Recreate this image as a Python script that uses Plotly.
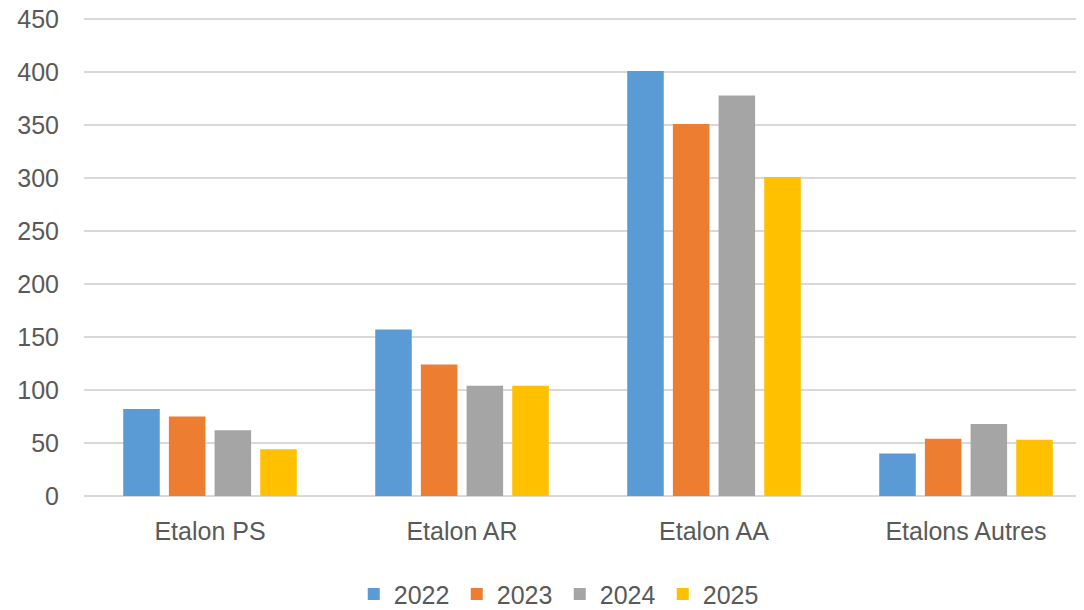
import plotly.graph_objects as go

categories = ["Etalon PS", "Etalon AR", "Etalon AA", "Etalons Autres"]
years = ["2022", "2023", "2024", "2025"]
v2022 = [82, 157, 401, 40]
v2023 = [75, 124, 351, 54]
v2024 = [62, 104, 378, 68]
v2025 = [44, 104, 301, 53]
colors = ["#5B9BD5", "#ED7D31", "#A5A5A5", "#FFC000"]
y_ticks = [0, 50, 100, 150, 200, 250, 300, 350, 400, 450]

series = [v2022, v2023, v2024, v2025]
FONT = "Liberation Sans"
fig = go.Figure()
for name, vals, col in zip(years, series, colors):
    fig.add_trace(go.Bar(x=categories, y=vals, name=name,
                         marker=dict(color=col, line=dict(width=0))))

fig.update_layout(
    width=1084, height=610,
    margin=dict(l=76, r=0, t=9, b=122, autoexpand=False),
    paper_bgcolor="white", plot_bgcolor="white",
    barmode="group", bargap=0.275, bargroupgap=0.2,
    font=dict(family=FONT, size=25, color="#595959"),
    showlegend=True,
    legend=dict(orientation="h", xref="container", yref="container",
                x=0.509, xanchor="center", y=0.039, yanchor="middle",
                font=dict(size=25, color="#595959"), itemwidth=30,
                entrywidth=58, entrywidthmode="pixels",
                traceorder="normal"),
    xaxis=dict(showgrid=False, showline=False, ticks="", automargin=False,
               ticklabelstandoff=18,
               tickfont=dict(size=25, color="#595959")),
    yaxis=dict(range=[0, 452], tickvals=y_ticks, showgrid=True,
               gridcolor="#D9D9D9", gridwidth=1.5, zeroline=True,
               zerolinecolor="#D9D9D9", zerolinewidth=1.5, automargin=False,
               showline=False, ticks="", ticklabelstandoff=24,
               ticklabeloverflow="allow",
               tickfont=dict(size=25, color="#595959")),
)
fig.write_html("out.html")
